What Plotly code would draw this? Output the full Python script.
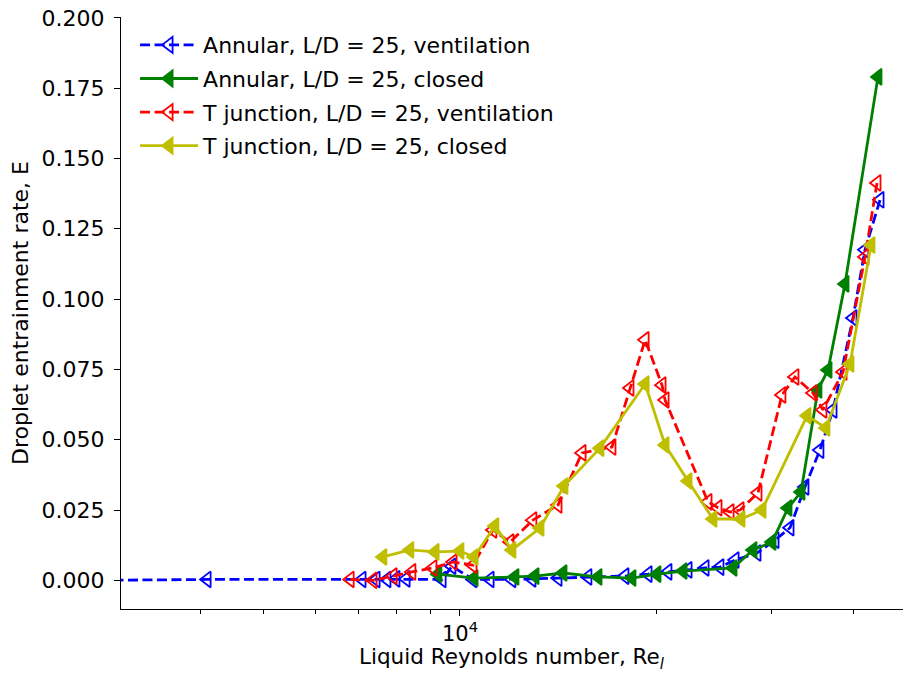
import plotly.graph_objects as go

# Liquid Reynolds number and droplet entrainment rate for each configuration
re_annular_vent = [2800, 4100, 7080, 7440, 7730, 7980, 8270, 9390, 9720, 10470, 11120, 12010,
                   12890, 14130, 15700, 17890, 19410, 20820, 22350, 23730, 25010, 26380, 28500,
                   30370, 32020, 33750, 35580, 37260, 39980, 41710, 43980]
e_annular_vent = [0.0, 0.0003, 0.0003, 0.0003, 0.0003, 0.0005, 0.0005, 0.0003, 0.0050, 0.0003,
                  0.0003, 0.0003, 0.0005, 0.0008, 0.0012, 0.0015, 0.0022, 0.0030, 0.0037, 0.0044,
                  0.0047, 0.0072, 0.0097, 0.0143, 0.0187, 0.0332, 0.0463, 0.0606, 0.0933, 0.1175,
                  0.1353]

re_annular_closed = [9250, 10510, 12140, 13030, 14380, 16270, 18340, 20030, 21960, 26190, 28100,
                     30050, 31790, 33280, 35330, 36610, 38870, 43660]
e_annular_closed = [0.0022, 0.0008, 0.0012, 0.0015, 0.0026, 0.0012, 0.0008, 0.0022, 0.0033,
                    0.0044, 0.0108, 0.0136, 0.0257, 0.0314, 0.0677, 0.0748, 0.1054, 0.1790]

re_tj_vent = [6790, 7360, 7900, 8440, 9090, 9760, 10470, 11230, 11930, 12930, 14130, 15380,
              17090, 18210, 19210, 20390, 20610, 23980, 24840, 25920, 26850, 28600, 31120, 32580,
              34720, 35960, 38600, 41710, 43510]
e_tj_vent = [0.0003, 0.0, 0.0015, 0.0030, 0.0044, 0.0065, 0.0054, 0.0179, 0.0136, 0.0214, 0.0268,
             0.0453, 0.0474, 0.0684, 0.0855, 0.0694, 0.0641, 0.0279, 0.0258, 0.0243, 0.0250,
             0.0311, 0.0659, 0.0723, 0.0666, 0.0606, 0.0741, 0.1150, 0.1413]

re_tj_closed = [7620, 8380, 9160, 10000, 10510, 11310, 12010, 13260, 14430, 16380, 19210, 20610,
                22350, 24400, 26940, 29010, 34000, 36340, 39560, 42600]
e_tj_closed = [0.0083, 0.0108, 0.0101, 0.0104, 0.0083, 0.0193, 0.0108, 0.0186, 0.0335, 0.0470,
               0.0698, 0.0481, 0.0353, 0.0218, 0.0218, 0.0250, 0.0585, 0.0542, 0.0769, 0.1192]

series = [
    ("Annular, L/D = 25, ventilation", re_annular_vent, e_annular_vent, "#0000ff", True),
    ("Annular, L/D = 25, closed", re_annular_closed, e_annular_closed, "#008000", False),
    ("T junction, L/D = 25, ventilation", re_tj_vent, e_tj_vent, "#ff0000", True),
    ("T junction, L/D = 25, closed", re_tj_closed, e_tj_closed, "#bfbf00", False),
]

y_ticks = [0.0, 0.025, 0.05, 0.075, 0.1, 0.125, 0.15, 0.175, 0.2]
x_major = [10000]
x_major_text = ["10<sup>4</sup>"]
x_minor = [3000, 4000, 5000, 6000, 7000, 8000, 9000, 20000, 30000, 40000]

FONT = "DejaVu Sans"
SIZE = 22
fig = go.Figure()
for i, (name, xs, ys, color, vent) in enumerate(series):
    fig.add_trace(go.Scatter(
        x=xs, y=ys, name=name, mode="lines+markers", legendgroup=f"g{i}",
        line=dict(color=color, width=2.8, dash="10px,4.5px" if vent else "solid"),
        marker=dict(symbol="triangle-left-open" if vent else "triangle-left", size=14,
                    color=color, line=dict(color=color, width=1.8)),
    ))

fig.update_layout(
    width=903, height=675,
    margin=dict(l=121, r=0, t=17, b=66),
    paper_bgcolor="white", plot_bgcolor="white",
    font=dict(family=FONT, size=SIZE, color="black"),
    showlegend=True,
    legend=dict(x=0.018, y=0.988, xanchor="left", yanchor="top",
                bgcolor="rgba(0,0,0,0)", font=dict(size=SIZE, family=FONT),
                itemwidth=58,
                traceorder="grouped", tracegroupgap=2),
    xaxis=dict(type="log", range=[3.4809, 4.6784], automargin=False,
               showline=True, linecolor="black", linewidth=1.2, mirror=False,
               showgrid=False, zeroline=False,
               ticks="outside", ticklen=6, tickwidth=1.2, tickcolor="black",
               tickfont=dict(size=21),
               tickmode="array", tickvals=x_major, ticktext=x_major_text,
               minor=dict(tickmode="array", tickvals=x_minor, ticks="outside",
                          ticklen=4, tickwidth=1, tickcolor="black", showgrid=False)),
    yaxis=dict(range=[-0.0102, 0.2003], automargin=False,
               showline=True, linecolor="black", linewidth=1.2, mirror=False,
               showgrid=False, zeroline=False,
               ticks="outside", ticklen=6, tickwidth=1.2, tickcolor="black",
               ticklabelstandoff=5,
               tickmode="array", tickvals=y_ticks, tickformat=".3f",
               title=dict(text="Droplet entrainment rate, E", standoff=6,
                          font=dict(size=SIZE))),
    # x-axis title, sitting on the bottom edge of the figure
    annotations=[dict(text="Liquid Reynolds number, Re<sub><i>l</i></sub>",
                      xref="paper", yref="paper", x=0.5, y=-0.1115, xanchor="center",
                      yanchor="bottom", showarrow=False, font=dict(size=21.5, family=FONT))],
)

fig.write_html("out.html")
